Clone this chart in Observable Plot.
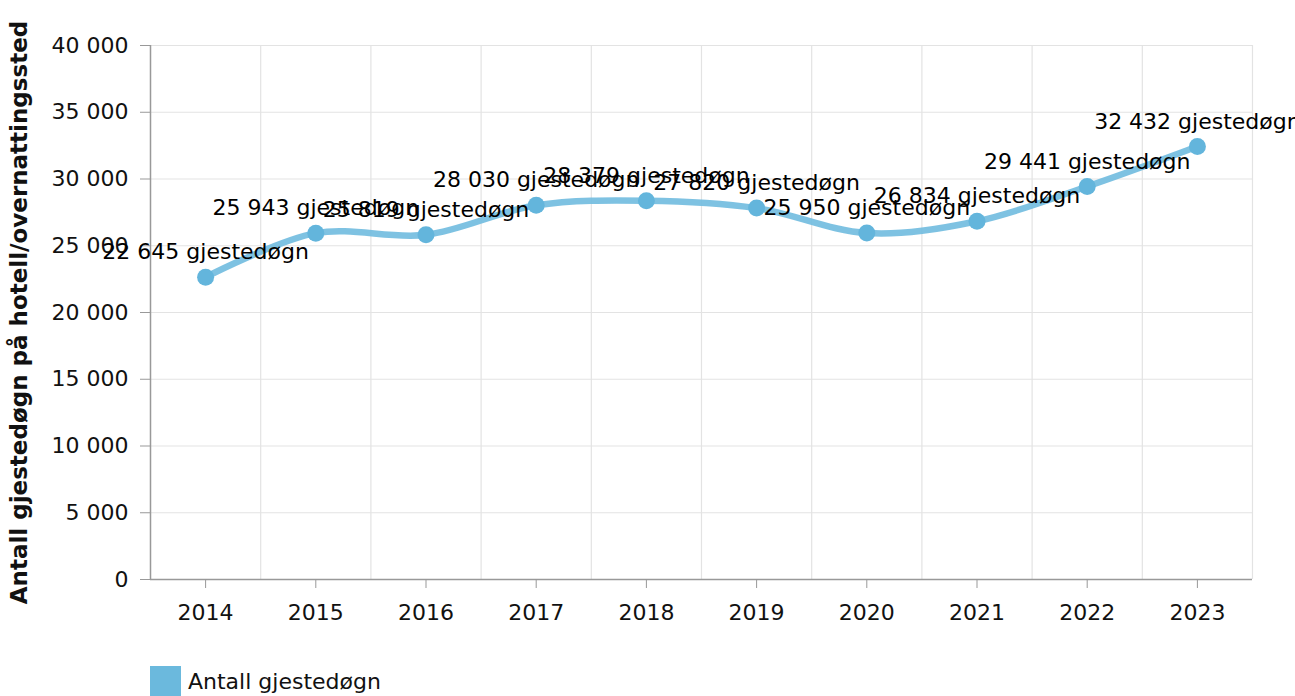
<!DOCTYPE html>
<html>
<head>
<meta charset="utf-8">
<script src="https://cdn.jsdelivr.net/npm/d3@7"></script>
<script src="https://cdn.jsdelivr.net/npm/@observablehq/plot@0.6"></script>
<style>
  body { margin: 0; background: #fff; font-family: "DejaVu Sans", Verdana, sans-serif; }
  #legend { display: flex; align-items: center; margin: 16px 0 0 150px; font-size: 22px; color: #111; }
  #legend .sw { width: 31px; height: 31px; background: #6bb9dd; margin-right: 7px; }
</style>
</head>
<body>
<div id="chart"></div>
<div id="legend"><div class="sw"></div><span>Antall gjestedøgn</span></div>
<script>
const years = [2014, 2015, 2016, 2017, 2018, 2019, 2020, 2021, 2022, 2023];
const values = [22645, 25943, 25819, 28030, 28379, 27820, 25950, 26834, 29441, 32432];
const yTicks = [0, 5000, 10000, 15000, 20000, 25000, 30000, 35000, 40000];
const unit = "gjestedøgn";
const yTitle = "Antall gjestedøgn på hotell/overnattingssted";

const data = years.map((y, i) => ({year: y, value: values[i]}));
const bounds = [years[0] - 0.5, ...years.map(y => y + 0.5)];
const fmt = d3.formatLocale({decimal: ",", thousands: " ", grouping: [3], currency: ["", ""]}).format(",d");

const chart = Plot.plot({
  width: 1295,
  height: 650,
  marginTop: 45,
  marginBottom: 71,
  marginLeft: 150,
  marginRight: 43,
  style: {fontFamily: "DejaVu Sans, Verdana, sans-serif", fontSize: "22px", color: "#111", background: "#fff"},
  x: {domain: [years[0] - 0.5, years[years.length - 1] + 0.5]},
  y: {domain: [0, 40000]},
  marks: [
    Plot.ruleY(yTicks.slice(1), {stroke: "#e3e3e3", strokeWidth: 1.2}),
    Plot.ruleX(bounds.slice(1), {stroke: "#e3e3e3", strokeWidth: 1.2}),
    Plot.ruleY([0], {stroke: "#999", strokeWidth: 1.5}),
    Plot.ruleX([bounds[0]], {stroke: "#999", strokeWidth: 1.5}),
    Plot.axisY({ticks: yTicks, tickFormat: fmt, tickSize: 10, tickPadding: 12, stroke: "#999", fontSize: 22,
      label: yTitle, labelAnchor: "center", labelArrow: "none", labelOffset: 140}),
    Plot.axisX({ticks: years, tickFormat: d => String(d), tickSize: 9, tickPadding: 16, stroke: "#999", fontSize: 22, label: null}),
    Plot.line(data, {x: "year", y: "value", curve: "catmull-rom", stroke: "#70bbdf", strokeWidth: 6.5, strokeOpacity: 0.9}),
    Plot.dot(data, {x: "year", y: "value", r: 8.5, fill: "#63b5dc"}),
    Plot.text(data, {x: "year", y: "value", text: d => fmt(d.value) + " " + unit, dy: -25, fontSize: 22, fill: "#000"})
  ]
});
chart.querySelectorAll("g[aria-label='y-axis label']").forEach(el => {
  el.setAttribute("font-weight", "bold");
  el.setAttribute("font-size", "23");
  el.style.fontWeight = "bold";
});
document.getElementById("chart").append(chart);
</script>
</body>
</html>
